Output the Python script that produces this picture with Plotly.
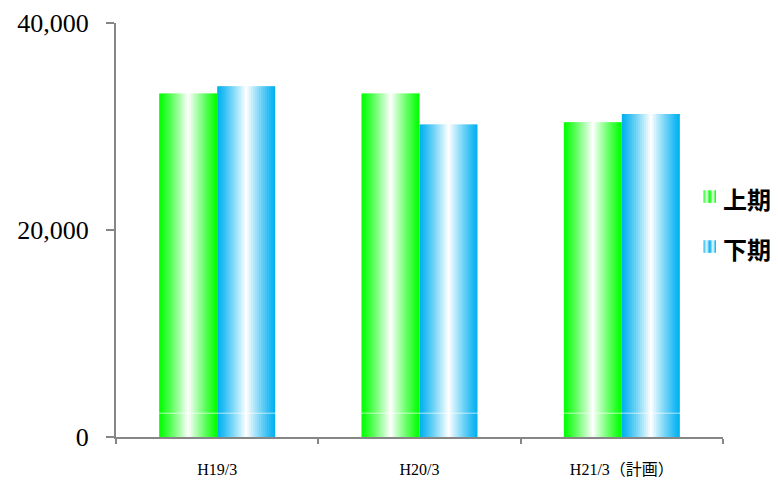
import plotly.graph_objects as go

# Data
categories = ["H19/3", "H20/3", "H21/3（計画）"]
first_half = [33200, 33200, 30400]    # 上期
second_half = [33900, 30200, 31200]   # 下期
series_names = ["上期", "下期"]
y_ticks = [0, 20000, 40000]

# Styling
GREEN = (0, 255, 0)
BLUE = (0, 176, 240)
AXIS_COLOR = "#868686"
W, H = 778, 481
L, R, T, B = 116, 55, 23.3, 43.5
plot_w = W - L - R
plot_h = H - T - B

BAR_W = 0.2867          # width of each bar in category units
N_STRIPS = 29           # vertical strips used to shade each bar


def shade(base, u):
    """Colour at relative position u (0..1) across a bar: base at edges, white in the middle."""
    t = (1 - abs(2 * u - 1)) ** 1.15
    r, g, b = (round(c + (255 - c) * t) for c in base)
    return f"rgb({r},{g},{b})"


fig = go.Figure()

for values, base, start in [(first_half, GREEN, -BAR_W), (second_half, BLUE, 0.0)]:
    step = BAR_W / N_STRIPS
    end = start + BAR_W
    for k in range(N_STRIPS):
        off = start + k * step
        width = min(step * 1.6, end - off)
        fig.add_trace(go.Bar(
            x=categories, y=values,
            offset=off, width=width,
            marker=dict(color=shade(base, (k + 0.5) / N_STRIPS), line=dict(width=0)),
            showlegend=False, hoverinfo="skip",
        ))

# faint light rule across the bars near the base
fig.add_shape(type="line", xref="x", yref="y", x0=-0.5, x1=2.5, y0=2300, y1=2300,
              line=dict(color="rgba(255,255,255,0.65)", width=1), layer="above")


# legend: small shaded swatches with labels
def px_x(px):
    return (px - L) / plot_w


def px_y(py):
    return (H - B - py) / plot_h


for name, base, cy in [(series_names[0], GREEN, 197), (series_names[1], BLUE, 247)]:
    x0, size = 703.5, 12.5
    n = 12
    for k in range(n):
        fig.add_shape(type="rect", xref="paper", yref="paper",
                      x0=px_x(x0 + k * size / n), x1=px_x(x0 + (k + 1.3) * size / n if k < n - 1 else x0 + size),
                      y0=px_y(cy - size / 2), y1=px_y(cy + size / 2),
                      line=dict(width=0), fillcolor=shade(base, (2 * (k + 0.5) / n) % 1), layer="above")
    fig.add_annotation(x=px_x(721), y=px_y(cy + 2), xref="paper", yref="paper",
                       xanchor="left", yanchor="middle", showarrow=False, text=f"<b>{name}</b>",
                       font=dict(family="Noto Sans CJK JP", size=24, color="#000000"))

fig.update_layout(
    width=W, height=H,
    margin=dict(l=L, r=R, t=T, b=B, pad=0),
    paper_bgcolor="white", plot_bgcolor="white",
    barmode="overlay",
    showlegend=False,
    xaxis=dict(
        type="category", range=[-0.5, 2.5], automargin=False,
        showline=True, linecolor=AXIS_COLOR, linewidth=2,
        ticks="outside", tickson="boundaries", ticklen=5, tickwidth=2, tickcolor=AXIS_COLOR,
        showgrid=False, zeroline=False,
        tickfont=dict(family="Liberation Serif, Noto Sans CJK JP", size=16, color="#000000"),
        ticklabelstandoff=17,
    ),
    yaxis=dict(
        range=[0, 40000], tickvals=y_ticks, tickformat=",d", automargin=False,
        showline=True, linecolor=AXIS_COLOR, linewidth=2,
        ticks="outside", ticklen=8, tickwidth=2, tickcolor=AXIS_COLOR,
        showgrid=False, zeroline=False,
        tickfont=dict(family="Liberation Serif", size=26, color="#000000"),
        ticklabelstandoff=12,
    ),
)

fig.write_html("out.html")
